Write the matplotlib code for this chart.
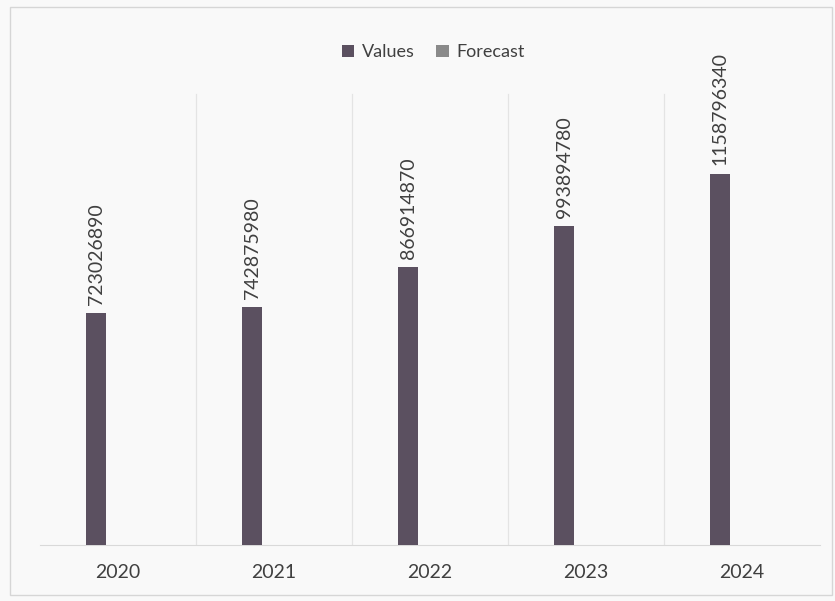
import matplotlib
matplotlib.use("Agg")
import matplotlib.pyplot as plt
from matplotlib.patches import Rectangle
import numpy as np

years = ["2020", "2021", "2022", "2023", "2024"]
values = [723026890, 742875980, 866914870, 993894780, 1158796340]
forecast = [0, 0, 0, 0, 0]

BAR_COLOR = "#5b5060"
FC_COLOR = "#8a8a8a"
TEXT = "#404040"
plt.rcParams["font.family"] = ["Lato", "DejaVu Sans"]

fig = plt.figure(figsize=(8.35, 6.01), dpi=100, facecolor="#f9f9f9")
ax = fig.add_axes([40 / 835, 56 / 601, 780 / 835, 485 / 601])
ax.set_facecolor("#f9f9f9")

x = np.arange(len(years))
w = 0.13
ax.bar(x - 0.14, values, width=w, color=BAR_COLOR, label="Values", zorder=3)
ax.bar(x + 0.0, forecast, width=w, color=FC_COLOR, label="Forecast", zorder=3)

for xi, v in zip(x, values):
    ax.annotate(f"{v}", (xi - 0.14, v), textcoords="offset points", xytext=(0, 6),
                rotation=90, ha="center", va="bottom", fontsize=14, color=TEXT)

ax.set_xlim(-0.5, 4.5)
ax.set_ylim(0, 1.513e9)
ax.set_xticks(x)
ax.set_xticklabels(years, fontsize=14, color=TEXT)
ax.tick_params(axis="x", length=0, pad=14)
ax.set_yticks([])
for xb in x[:-1] + 0.5:
    ax.axvline(xb, ymax=0.93, color="#e4e4e4", lw=0.9, zorder=1)
for side in ("top", "right", "left"):
    ax.spines[side].set_visible(False)
ax.spines["bottom"].set_color("#d9d9d9")

fig.legend(loc="upper center", bbox_to_anchor=(433 / 835, 1 - 28 / 601), ncol=2,
           frameon=False, fontsize=13, handlelength=0.7, handleheight=0.7,
           handletextpad=0.4, columnspacing=1.2, labelcolor=TEXT)

fig.patches.append(Rectangle((10 / 835, 6 / 601), 822 / 835, 588 / 601,
                             transform=fig.transFigure, fill=False,
                             edgecolor="#d6d6d6", lw=1))

fig.savefig("out.png", dpi=100, facecolor=fig.get_facecolor())
